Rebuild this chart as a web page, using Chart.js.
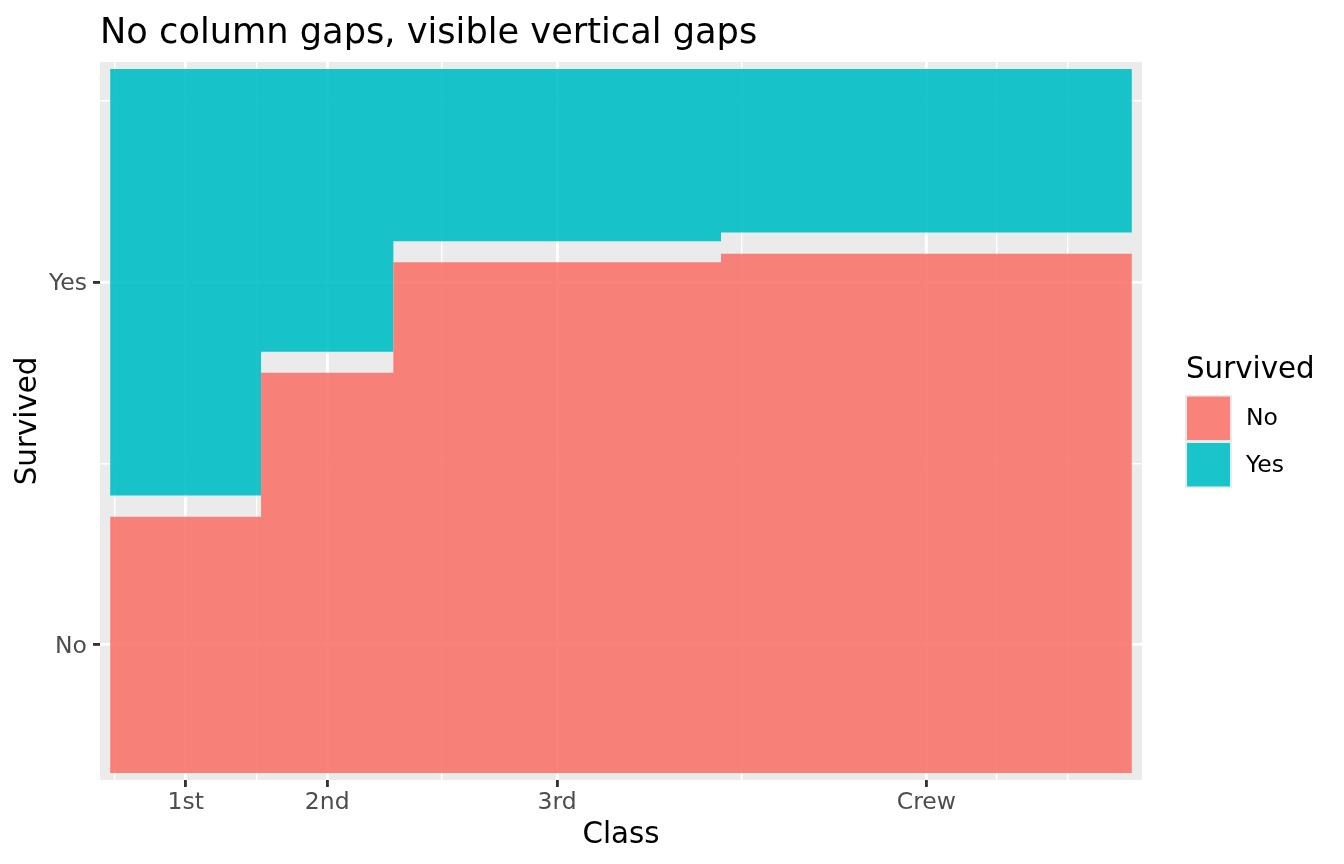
<!DOCTYPE html>
<html>
<head>
<meta charset="utf-8">
<script src="https://cdn.jsdelivr.net/npm/chart.js@4.4.1/dist/chart.umd.min.js"></script>
<style>
  html, body { margin: 0; padding: 0; background: #ffffff; }
  canvas { display: block; }
</style>
</head>
<body>
<canvas id="chartMosaic" width="1344" height="864"></canvas>
<script>
// Titanic: Class x Survived
const classes = ['1st', '2nd', '3rd', 'Crew'];
const survivedLevels = ['No', 'Yes'];
const noCounts = [122, 167, 528, 673];
const yesCounts = [203, 118, 178, 212];
const verticalGap = 0.03;

const chartTitle = 'No column gaps, visible vertical gaps';
const FONT = "'DejaVu Sans', 'Liberation Sans', sans-serif";
const fillColors = ['rgba(248,118,109,0.9)', 'rgba(0,191,196,0.9)'];

// column widths come from class totals, no gap between columns
const colTotals = classes.map((c, i) => noCounts[i] + yesCounts[i]);
const grandTotal = colTotals.reduce((a, b) => a + b, 0);
const colStart = [];
let acc = 0;
colTotals.forEach(t => { colStart.push(acc / grandTotal); acc += t; });
const colEnd = colTotals.map((t, i) => colStart[i] + t / grandTotal);
const noTop = classes.map((c, i) => noCounts[i] / colTotals[i] * (1 - verticalGap));
const yesBottom = noTop.map(v => v + verticalGap);

// one outline per level so neighbouring columns join without seams
function stepOutline(edge, base) {
   const pts = [{ x: 0, y: base }, { x: 1, y: base }];
   for (let i = classes.length - 1; i >= 0; i--) {
      pts.push({ x: colEnd[i], y: edge[i] }, { x: colStart[i], y: edge[i] });
   }
   pts.push({ x: 0, y: base });
   return pts;
}

const datasets = [stepOutline(noTop, 0), stepOutline(yesBottom, 1)].map((pts, k) => ({
   label: survivedLevels[k],
   data: pts,
   showLine: true,
   fill: 'shape',
   backgroundColor: fillColors[k],
   borderColor: 'rgba(0,0,0,0)',
   borderWidth: 0,
   pointRadius: 0,
   pointHoverRadius: 0,
   tension: 0,
}));

// breaks: x at column centres, y at segment centres of the first column
const xMajor = classes.map((c, i) => (colStart[i] + colEnd[i]) / 2);
const yMajor = [noTop[0] / 2, (yesBottom[0] + 1) / 2];

function minorBreaks(b, lo, hi) {
   const d = b[1] - b[0];
   const ext = [b[0] - d, ...b, b[b.length - 1] + d];
   const out = [];
   for (let i = 0; i < ext.length - 1; i++) out.push(ext[i], (ext[i] + ext[i + 1]) / 2);
   out.push(ext[ext.length - 1]);
   return out.filter(v => v > lo && v < hi && !b.some(m => Math.abs(m - v) < 1e-9));
}

const LIM = [-0.01, 1.01];
const buildTicks = (major) => {
   const minor = minorBreaks(major, LIM[0], LIM[1]);
   return [...minor.map(v => ({ value: v, major: false })), ...major.map(v => ({ value: v, major: true }))]
      .sort((a, b) => a.value - b.value);
};
const labelFor = (major, names) => (value) => {
   const k = major.findIndex(m => Math.abs(m - value) < 1e-9);
   return k >= 0 ? names[k] : '';
};

const gridOpts = {
   color: '#FFFFFF',
   lineWidth: ctx => (ctx.tick && ctx.tick.major ? 2.85 : 1.42),
   drawTicks: true,
   tickLength: 7,
   tickWidth: 2.85,
   tickColor: ctx => (ctx.tick && ctx.tick.major ? '#333333' : 'rgba(0,0,0,0)'),
};

const mosaicDecor = {
   id: 'mosaicDecor',
   beforeDraw(chart) {
      const { ctx, chartArea: a } = chart;
      ctx.save();
      ctx.fillStyle = '#EBEBEB';
      ctx.fillRect(a.left, a.top, a.right - a.left, a.bottom - a.top);
      ctx.restore();
   },
   afterDraw(chart) {
      const { ctx } = chart;
      ctx.save();
      ctx.fillStyle = '#000000';
      ctx.textAlign = 'left';
      ctx.textBaseline = 'alphabetic';
      ctx.font = `35.2px ${FONT}`;
      ctx.fillText(chartTitle, 100, 43);

      // legend
      ctx.font = `29.3px ${FONT}`;
      ctx.fillText('Survived', 1186, 378);
      ctx.fillStyle = '#EBEBEB';
      ctx.fillRect(1185, 395, 47, 93);
      survivedLevels.forEach((lv, k) => {
         const y = 395 + k * 46.5;
         ctx.fillStyle = '#FFFFFF';
         ctx.fillRect(1187, y + 1.5, 43, 43.5);
         ctx.fillStyle = fillColors[k];
         ctx.fillRect(1187, y + 1.5, 43, 43.5);
         ctx.fillStyle = '#000000';
         ctx.font = `23.5px ${FONT}`;
         ctx.textBaseline = 'middle';
         ctx.fillText(lv, 1246, y + 24);
      });
      ctx.restore();
   }
};

const chartMosaic = new Chart(document.getElementById('chartMosaic').getContext('2d'), {
   type: 'scatter',
   data: { datasets },
   options: {
      responsive: false,
      animation: false,
      events: [],
      layout: { padding: { top: 62, right: 202, left: 0, bottom: 0 } },
      plugins: {
         legend: { display: false },
         tooltip: { enabled: false },
         title: { display: false },
      },
      scales: {
         x: {
            type: 'linear',
            bounds: 'data',
            min: LIM[0],
            max: LIM[1],
            afterBuildTicks: s => { s.ticks = buildTicks(xMajor); },
            afterFit: s => { s.height = 84; },
            grid: gridOpts,
            border: { display: false },
            ticks: {
               autoSkip: false,
               maxRotation: 0,
               padding: 2,
               color: '#4D4D4D',
               font: { family: FONT, size: 23.5 },
               callback: labelFor(xMajor, classes),
            },
            title: {
               display: true,
               text: 'Class',
               color: '#000000',
               font: { family: FONT, size: 29.3 },
               padding: { top: 0, bottom: 11 },
            },
         },
         y: {
            type: 'linear',
            bounds: 'data',
            min: LIM[0],
            max: LIM[1],
            afterBuildTicks: s => { s.ticks = buildTicks(yMajor); },
            afterFit: s => { s.width = 100; },
            grid: gridOpts,
            border: { display: false },
            ticks: {
               autoSkip: false,
               padding: 6,
               labelOffset: 2,
               color: '#4D4D4D',
               font: { family: FONT, size: 23.5 },
               callback: labelFor(yMajor, survivedLevels),
            },
            title: {
               display: true,
               text: 'Survived',
               color: '#000000',
               font: { family: FONT, size: 29.3 },
               padding: { top: 11, bottom: 0 },
            },
         },
      },
   },
   plugins: [mosaicDecor],
});
</script>
</body>
</html>
